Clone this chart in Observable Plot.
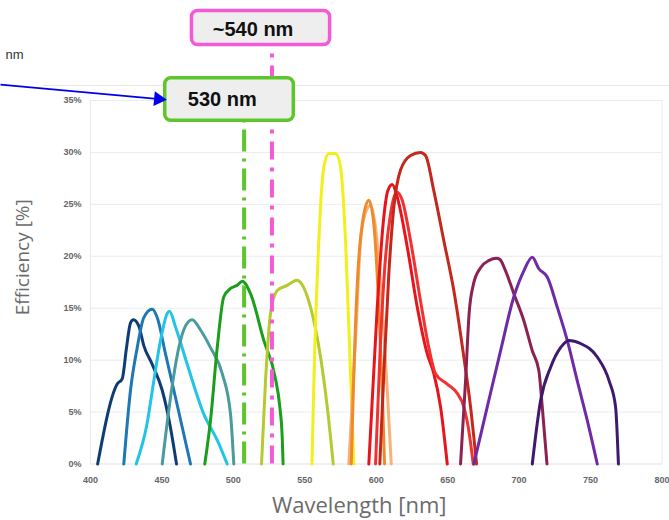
<!DOCTYPE html>
<html><head><meta charset="utf-8">
<script src="https://cdn.jsdelivr.net/npm/d3@7"></script>
<script src="https://cdn.jsdelivr.net/npm/@observablehq/plot@0.6"></script>
<style>
html,body{margin:0;padding:0;background:#fff;}
#chart{width:669px;height:520px;overflow:hidden;}
</style></head><body><div id="chart"></div>
<script>
// ---- axis ticks ----
const xTicks = [400, 450, 500, 550, 600, 650, 700, 750, 800];
const yTicks = [0, 5, 10, 15, 20, 25, 30, 35];

// ---- filter curves: [wavelength nm, efficiency %] ----
const navy = [[405,0],[418.7,7.7],[422.2,8.2],[425.2,11.2],[428,13.6],[430,13.9],[433.8,13.3],[437.3,11.4],[443.2,9.6],[450.2,7.1],[456,3.5],[460.2,0]];
const blue = [[423.3,0],[428,7.1],[432.7,11.2],[437.3,14.1],[443.2,14.9],[446.7,14.1],[452.5,10.6],[459.5,6.4],[470,0]];
const cyan = [[432,0],[439.6,3.9],[444.3,8.0],[449,11.9],[453.7,14.5],[455.3,14.7],[459.5,13.2],[467.7,9.6],[479.3,4.8],[488.7,2.3],[495.7,0]];
const teal = [[450.2,0],[456,6.4],[461.8,11.2],[466.5,13.3],[471.2,13.9],[477,12.9],[484,11.2],[492.2,8.7],[498,4.8],[500.3,0]];
const green = [[480,0],[484,4.2],[488.7,11.2],[493.3,16.1],[498,16.9],[502.7,17.2],[506.2,17.6],[512,16.4],[521.3,11.9],[529,8.5],[532.5,5.5],[534.2,2.5],[534.8,0]];
const yellowGreen = [[519.7,0],[522.5,8.0],[526,14.5],[530.7,16.7],[537.7,17.2],[544.5,17.7],[547.5,17.4],[554,15.1],[561,10.3],[565.7,5.5],[569.9,0]];
const yellow = [[555,0],[556.5,8.7],[559.8,21.5],[563.3,28.6],[566.8,29.9],[571.5,29.9],[575,28.6],[578.5,21.5],[582,8.7],[584.3,0]];
const orange = [[582.5,0],[584.3,8.7],[587.1,18.3],[590.2,23.1],[594.8,25.4],[598.3,23.1],[601.8,15.1],[604.2,7.1],[605.8,0]];
const peach = [[580.8,0],[585.5,11.9],[589,21.5],[592.5,24.2],[596,24.9],[599.5,22.8],[604.2,15.1],[607.7,7.1],[610.5,0]];
const redA = [[594.8,0],[600.7,15.1],[604.8,23.1],[608.1,26.3],[611.2,26.9],[614.7,25.7],[621.7,20.9],[628.7,15.1],[635.7,10.6],[640.3,8.7],[645,5.5],[649.7,0]];
const redB = [[599.5,0],[603,11.9],[606.5,19.9],[610,24.1],[614.2,26.2],[618.2,25.4],[624,21.5],[631,15.7],[636.8,11.2],[641.5,8.7],[649.7,7.7],[656.7,6.8],[661.3,5.5],[664.8,3.2],[667.9,0]];
const darkRed = [[602.5,0],[605.3,8.7],[608.8,18.3],[612.3,24.7],[617,28.3],[624,29.7],[631,30.0],[634.5,29.7],[640.3,26.3],[647.3,21.5],[654.3,16.7],[661.3,10.3],[666,5.5],[670.2,0]];
const maroon = [[659,0],[662.5,8.0],[665,14.5],[668,17.3],[673,18.9],[679,19.6],[684,19.8],[686.5,19.7],[690.5,18.6],[696.3,16.4],[703.3,13.8],[709.2,10.9],[713.8,9.0],[716.2,5.5],[719.5,0]];
const purple = [[668.3,0],[677.7,5.5],[687,10.9],[696.3,16.1],[703.3,18.6],[709.2,19.9],[713.8,18.8],[719.7,18.0],[726.7,15.1],[733.7,11.9],[740.7,8.0],[747.7,4.2],[754.7,0]];
const darkPurple = [[709.2,0],[715,6.1],[722,9.3],[729,11.2],[734.8,11.9],[743,11.6],[754.7,10.3],[763,8.0],[767.5,5.5],[769.5,0]];

const seriesNames = ["navy","blue","cyan","teal","green","yellowGreen","yellow","peach","orange","redA","redB","darkRed","maroon","purple","darkPurple"];
const seriesColors = ["#0f3d73","#1f78b4","#22c4e8","#4a9b9e","#1b9e1b","#b5c930","#f2ef1c","#f6b27a","#ef8a2a","#e8141c","#f03232","#c4281c","#8c2252","#6f2aa6","#3e1a6e"];
const seriesPoints = [navy,blue,cyan,teal,green,yellowGreen,yellow,peach,orange,redA,redB,darkRed,maroon,purple,darkPurple];

// ---- annotations (data units) ----
const markerLabels = ["530 nm", "~540 nm"];
const markerWl = [507.5, 527];
const markerTop = [33.0, 40.2];
const markerColors = ["#5cc62a", "#f45ad8"];
const markerDash = ["22,7,3,7", "18,8,4,8"];
const boxX1 = [452.3, 471.0];
const boxX2 = [542.3, 567.7];
const boxY1 = [33.05, 40.34];
const boxY2 = [37.14, 43.62];
const labelWl = [492.2, 513.8];
const labelEff = [35.05, 41.84];
const arrowFrom = [337, 36.53];
const arrowTo = [446.5, 35.16];
const arrowTip = [447.5, 35.14];
const cornerText = "nm";
const cornerPos = [340.5, 39.43];
const borderLine = [367, 806, 36.44];

const rows = seriesPoints.flatMap((pts, i) => pts.map(([wl, eff]) => ({series: seriesNames[i], wl, eff})));
const colorOf = Object.fromEntries(seriesNames.map((n, i) => [n, seriesColors[i]]));

const marks = [
  Plot.ruleY(yTicks, {stroke: "#ebebeb", strokeWidth: 1}),
  Plot.frame({stroke: "#ebebeb"}),
  Plot.ruleY([borderLine[2]], {x1: borderLine[0], x2: borderLine[1], stroke: "#e6e6e6"}),
  Plot.axisX({ticks: xTicks, tickSize: 0, tickPadding: 13, fontSize: 9, fontWeight: "bold", color: "#666", label: null}),
  Plot.axisY({ticks: yTicks, tickSize: 0, tickPadding: 9, fontSize: 9, fontWeight: "bold", color: "#666", label: null, tickFormat: d => d + "%"}),
];
seriesNames.forEach(name => {
  marks.push(Plot.line(rows.filter(r => r.series === name), {x: "wl", y: "eff", stroke: colorOf[name], strokeWidth: 3, curve: "monotone-x", strokeLinejoin: "round", strokeLinecap: "round"}));
});
// pink marker first so that the green box covers it
[1, 0].forEach(i => {
  marks.push(Plot.ruleX([markerWl[i]], {y1: 0, y2: markerTop[i], stroke: markerColors[i], strokeWidth: 4, strokeDasharray: markerDash[i]}));
  marks.push(Plot.rect([i], {x1: boxX1[i], x2: boxX2[i], y1: boxY1[i], y2: boxY2[i], fill: "#eeeeee", stroke: markerColors[i], strokeWidth: 3.5, rx: 6}));
  marks.push(Plot.text([markerLabels[i]], {x: labelWl[i], y: labelEff[i], text: d => d, fontSize: 20, fontWeight: "bold", fill: "#111", fontFamily: "Liberation Sans, Arial, sans-serif"}));
});
marks.push(Plot.link([0], {x1: arrowFrom[0], y1: arrowFrom[1], x2: arrowTo[0], y2: arrowTo[1], stroke: "#0000ee", strokeWidth: 1.6}));
marks.push(Plot.dot([0], {x: arrowTip[0], y: arrowTip[1], symbol: "triangle", r: 5.5, fill: "#0000ee", stroke: "none", rotate: 95.3}));
marks.push(Plot.text([cornerText], {x: cornerPos[0], y: cornerPos[1], text: d => d, textAnchor: "start", fontSize: 13, fill: "#333"}));
marks.push(Plot.text(["Efficiency [%]"], {frameAnchor: "left", textAnchor: "middle", lineAnchor: "middle", dx: -68, dy: -25, rotate: -90, fontSize: 19, fill: "#6b6b6b", fontFamily: "Open Sans, sans-serif"}));
marks.push(Plot.text(["Wavelength [nm]"], {frameAnchor: "bottom", textAnchor: "middle", lineAnchor: "middle", dx: -17, dy: 41.5, fontSize: 22, fill: "#6b6b6b", fontFamily: "Open Sans, sans-serif"}));

const chart = Plot.plot({
  width: 669, height: 520,
  marginLeft: 90, marginRight: 7.5, marginTop: 100, marginBottom: 56.5,
  x: {domain: [400, 800], axis: null},
  y: {domain: [0, 35], axis: null},
  style: {fontFamily: "Liberation Sans, Arial, sans-serif", background: "white", overflow: "visible"},
  marks
});
document.getElementById("chart").appendChild(chart);
</script></body></html>
